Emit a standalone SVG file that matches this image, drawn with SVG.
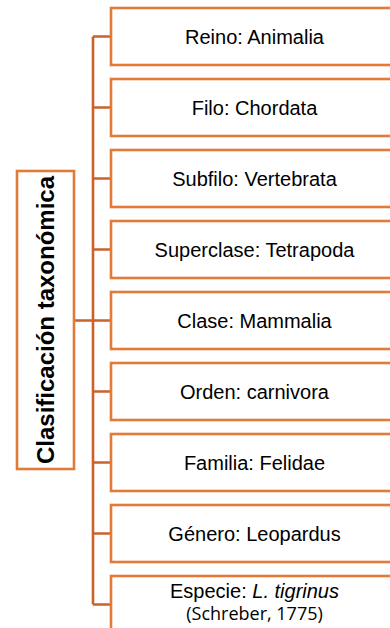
<svg xmlns="http://www.w3.org/2000/svg" width="390" height="628" viewBox="0 0 390 628">
<style>
.box{fill:#fff;stroke:#E27B38;stroke-width:2.6}
.con{fill:none;stroke:#C9632B;stroke-width:2.6}
.t{font-family:"Liberation Sans",Arial,sans-serif;font-size:20px;fill:#000;text-anchor:middle}
.r{font-family:"Liberation Sans",Arial,sans-serif;font-size:24px;font-weight:bold;fill:#000;text-anchor:middle}
.c{font-family:"Open Sans","Noto Sans",sans-serif;font-size:18px;fill:#000;text-anchor:middle}
</style>
<rect width="390" height="628" fill="#fff"/>
<g id="connectors">
<path class="con" d="M93 36.5V604.5M74 320.5H93M93 36.5H111M93 107.5H111M93 178.5H111M93 249.5H111M93 320.5H111M93 391.5H111M93 462.5H111M93 533.5H111M93 604.5H111"/>
</g>
<g id="root">
<rect class="box" x="17" y="171" width="57" height="298"/>
<text class="r" transform="translate(53.5 320) rotate(-90)">Clasificación taxonómica</text>
</g>
<g id="reino"><rect class="box" x="111" y="8" width="287" height="57"/><text class="t" x="254.5" y="43.5">Reino: Animalia</text></g>
<g id="filo"><rect class="box" x="111" y="79" width="287" height="57"/><text class="t" x="254.5" y="114.5">Filo: Chordata</text></g>
<g id="subfilo"><rect class="box" x="111" y="150" width="287" height="57"/><text class="t" x="254.5" y="185.5">Subfilo: Vertebrata</text></g>
<g id="superclase"><rect class="box" x="111" y="221" width="287" height="57"/><text class="t" x="254.5" y="256.5">Superclase: Tetrapoda</text></g>
<g id="clase"><rect class="box" x="111" y="292" width="287" height="57"/><text class="t" x="254.5" y="327.5">Clase: Mammalia</text></g>
<g id="orden"><rect class="box" x="111" y="363" width="287" height="57"/><text class="t" x="254.5" y="398.5">Orden: carnivora</text></g>
<g id="familia"><rect class="box" x="111" y="434" width="287" height="57"/><text class="t" x="254.5" y="469.5">Familia: Felidae</text></g>
<g id="genero"><rect class="box" x="111" y="505" width="287" height="57"/><text class="t" x="254.5" y="540.5">Género: Leopardus</text></g>
<g id="especie"><rect class="box" x="111" y="576" width="287" height="57"/><text class="t" x="254.5" y="597.5">Especie: <tspan font-style="italic">L. tigrinus</tspan></text><text class="c" x="254.5" y="620">(Schreber, 1775)</text></g>
</svg>
